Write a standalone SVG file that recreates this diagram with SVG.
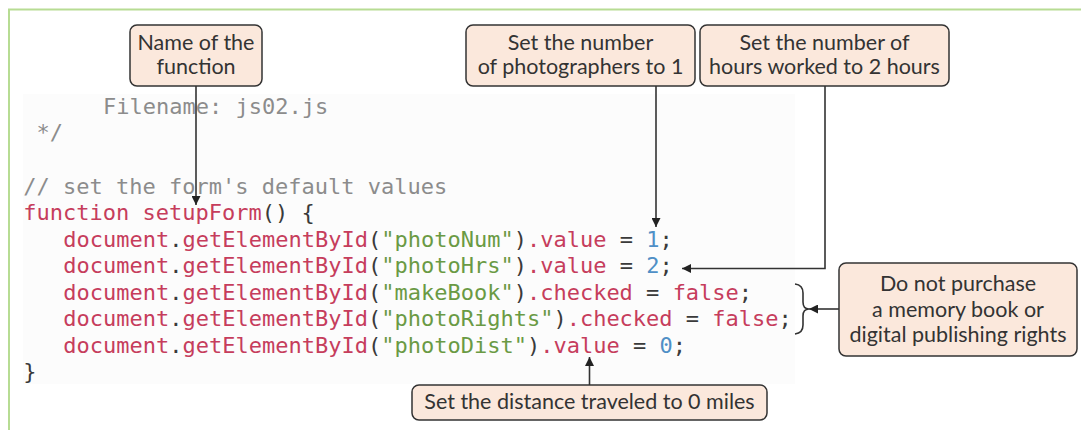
<svg xmlns="http://www.w3.org/2000/svg" width="1081" height="430" viewBox="0 0 1081 430">
<defs>
<style>
.code{font-family:"DejaVu Sans Mono","Liberation Mono",monospace;font-size:22px;fill:#3a3a3a;}
.k{fill:#c63d5c;}
.s{fill:#6a9a44;}
.n{fill:#4f8fc6;}
.c{fill:#8c8c8c;}
.box{fill:#fbe8dc;stroke:#333;stroke-width:1.5;}
.lbl{font-family:Lato,"Noto Sans",sans-serif;font-size:21.5px;fill:#333;text-anchor:middle;}
.conn{fill:none;stroke:#333;stroke-width:1.6;}
</style>
<marker id="ah" viewBox="0 0 10 10" refX="10" refY="5" markerWidth="10" markerHeight="9" markerUnits="userSpaceOnUse" orient="auto">
<path d="M0,0 L10,5 L0,10 z" fill="#222"/>
</marker>
</defs>
<rect x="0" y="0" width="1081" height="430" fill="#fff"/>
<path d="M9,430 V9.5 H1081" fill="none" stroke="#b7dc93" stroke-width="2"/>
<rect x="23" y="94" width="772" height="290" fill="#fcfcfc"/>

<g id="code" class="code" xml:space="preserve">
<text x="103" y="113.5" class="c">Filename: js02.js</text>
<text x="36.6" y="140" class="c">*/</text>
<text x="23.3" y="193.5" class="c">// set the form's default values</text>
<text x="23.3" y="220"><tspan class="k">function setupForm</tspan>() {</text>
<text x="63.3" y="246.5"><tspan class="k">document</tspan>.<tspan class="k">getElementById</tspan>(<tspan class="s">"photoNum"</tspan>)<tspan class="k">.value</tspan> = <tspan class="n">1</tspan>;</text>
<text x="63.3" y="273"><tspan class="k">document</tspan>.<tspan class="k">getElementById</tspan>(<tspan class="s">"photoHrs"</tspan>)<tspan class="k">.value</tspan> = <tspan class="n">2</tspan>;</text>
<text x="63.3" y="299.5"><tspan class="k">document</tspan>.<tspan class="k">getElementById</tspan>(<tspan class="s">"makeBook"</tspan>)<tspan class="k">.checked</tspan> = <tspan class="k">false</tspan>;</text>
<text x="63.3" y="326"><tspan class="k">document</tspan>.<tspan class="k">getElementById</tspan>(<tspan class="s">"photoRights"</tspan>)<tspan class="k">.checked</tspan> = <tspan class="k">false</tspan>;</text>
<text x="63.3" y="352.5"><tspan class="k">document</tspan>.<tspan class="k">getElementById</tspan>(<tspan class="s">"photoDist"</tspan>)<tspan class="k">.value</tspan> = <tspan class="n">0</tspan>;</text>
<text x="23.3" y="379">}</text>
</g>

<g id="connectors">
<path class="conn" d="M196,86 V205" marker-end="url(#ah)"/>
<path class="conn" d="M656,86 V227" marker-end="url(#ah)"/>
<path class="conn" d="M825,86 V268.5 H682" marker-end="url(#ah)"/>
<path class="conn" d="M839,309 H809" marker-end="url(#ah)"/>
<path class="conn" d="M589.5,385 V357" marker-end="url(#ah)"/>
<path class="conn" d="M795,284 Q803,285 803,293 V302 Q803,309 809,309 Q803,309 803,316 V325 Q803,333 795,334"/>
</g>

<g id="node-name">
<rect class="box" x="130" y="25" width="132" height="61" rx="7"/>
<text class="lbl" x="196" y="49.5">Name of the</text>
<text class="lbl" x="196" y="73.5">function</text>
</g>
<g id="node-photographers">
<rect class="box" x="466" y="25" width="229" height="61" rx="7"/>
<text class="lbl" x="580.5" y="49.5">Set the number</text>
<text class="lbl" x="580.5" y="73.5">of photographers to 1</text>
</g>
<g id="node-hours">
<rect class="box" x="700" y="25" width="249" height="61" rx="7"/>
<text class="lbl" x="824.5" y="49.5">Set the number of</text>
<text class="lbl" x="824.5" y="73.5">hours worked to 2 hours</text>
</g>
<g id="node-purchase">
<rect class="box" x="839" y="263" width="238" height="93" rx="7"/>
<text class="lbl" x="958" y="290.5">Do not purchase</text>
<text class="lbl" x="958" y="316.5">a memory book or</text>
<text class="lbl" x="958" y="342">digital publishing rights</text>
</g>
<g id="node-distance">
<rect class="box" x="412" y="385" width="355" height="35" rx="7"/>
<text class="lbl" x="589.5" y="409">Set the distance traveled to 0 miles</text>
</g>
</svg>
